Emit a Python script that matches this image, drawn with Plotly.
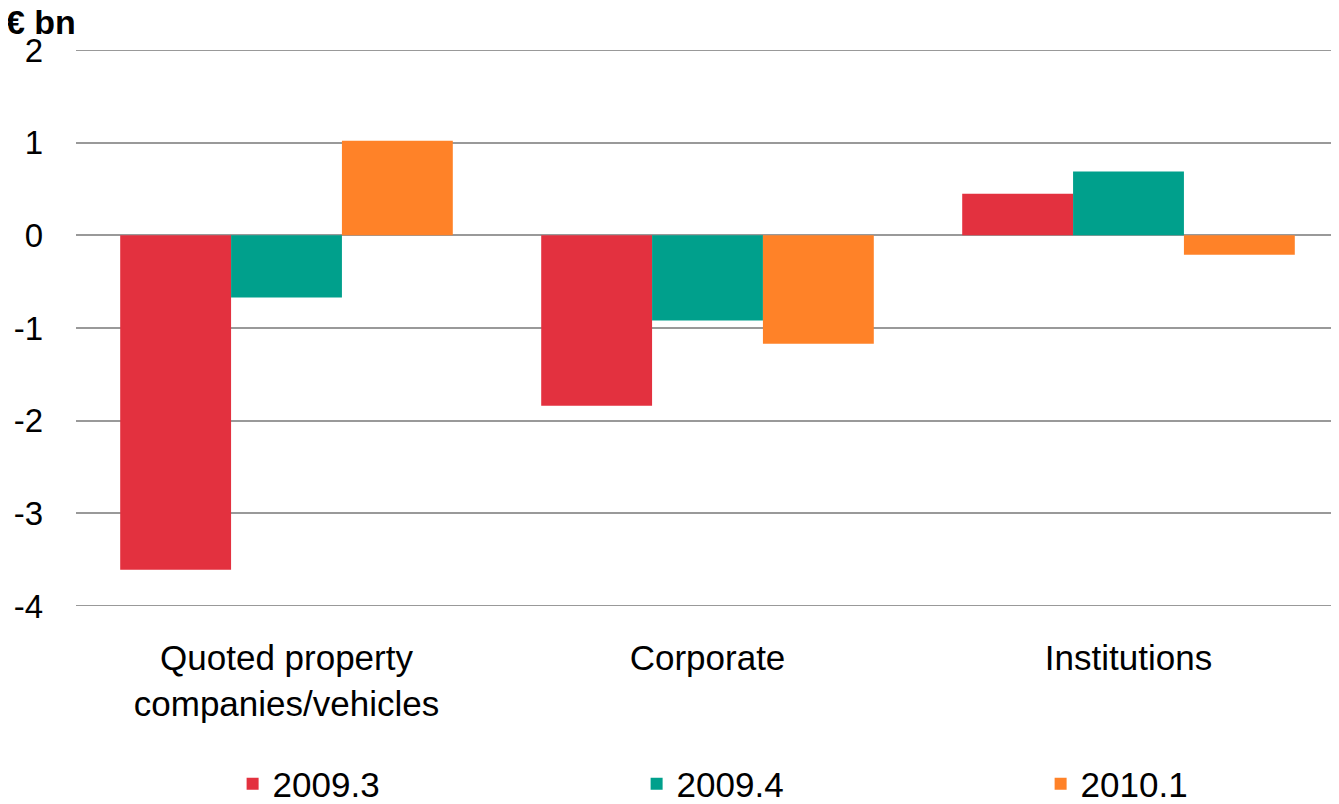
import plotly.graph_objects as go

# ── 데이터 ────────────────────────────────────────────────
categories = ["Quoted property<br>companies/vehicles", "Corporate", "Institutions"]
q2009_3 = [-3.61, -1.84, 0.45]
q2009_4 = [-0.67, -0.92, 0.69]
q2010_1 = [1.02, -1.17, -0.21]
series_names = ["2009.3", "2009.4", "2010.1"]
colors = ["#E3313F", "#00A08C", "#FF8228"]
y_ticks = [-4, -3, -2, -1, 0, 1, 2]
y_labels = ["-4", "-3", "-2", "-1", "0", "1", "2"]

FONT = "Liberation Sans, Arial, sans-serif"
GRID = "#999999"
OFF = 8  # 페이지 body 여백
PLOT_W, PLOT_H = 1263, 556

fig = go.Figure()
for name, vals, color in zip(series_names, [q2009_3, q2009_4, q2010_1], colors):
    fig.add_trace(go.Bar(x=categories, y=vals, name=name, marker_color=color,
                         marker_line_width=0))

# 범위 끝 그리드선 (plotly는 가장자리 그리드선을 생략함)
for yv in (y_ticks[0], y_ticks[-1]):
    fig.add_shape(type="line", xref="paper", yref="y", x0=0, x1=1, y0=yv, y1=yv,
                  line=dict(color=GRID, width=2), layer="below")

fig.update_layout(
    width=1339 - OFF, height=804 - OFF,
    paper_bgcolor="white", plot_bgcolor="white",
    font=dict(family=FONT, color="black", size=33),
    margin=dict(l=76 - OFF, r=0, t=50 - OFF, b=198, autoexpand=False),
    barmode="group", bargap=0.21, bargroupgap=0,
    showlegend=True,
    legend=dict(orientation="h", x=0.124, xanchor="left",
                y=-(784 - 606) / PLOT_H, yanchor="middle",
                entrywidth=359, entrywidthmode="pixels",
                font=dict(size=35), itemwidth=30),
)
fig.update_yaxes(range=[-4, 2], tickvals=y_ticks, ticktext=y_labels,
                 showgrid=True, gridcolor=GRID, gridwidth=2,
                 zeroline=True, zerolinecolor=GRID, zerolinewidth=2,
                 ticks="", ticklabelstandoff=32, tickfont=dict(size=33))
fig.update_xaxes(showgrid=False, showline=False, ticks="", ticklabelstandoff=28,
                 tickfont=dict(size=35))

fig.add_annotation(text="<b>€ bn</b>", xref="paper", yref="paper",
                   x=(5 - 76) / PLOT_W, y=1 + 28 / PLOT_H,
                   xanchor="left", yanchor="middle", showarrow=False,
                   font=dict(size=34), borderpad=0)

fig.write_html("out.html")
